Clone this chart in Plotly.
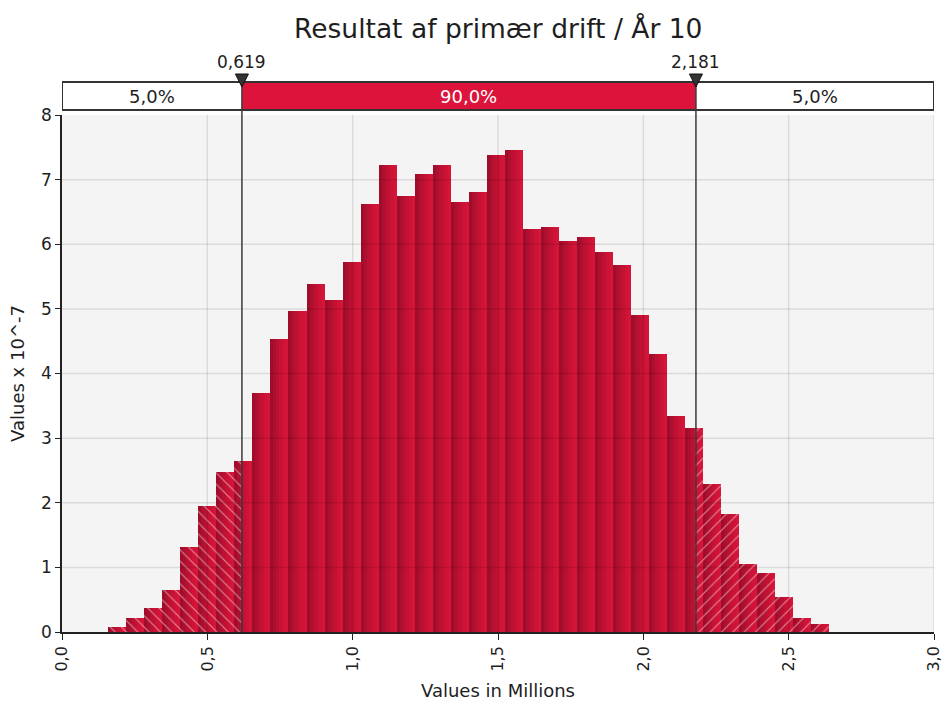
import plotly.graph_objects as go

# ---- data ----
title_text = "Resultat af primær drift / År 10"
x_title = "Values in Millions"
y_title = "Values x 10^-7"
bin_start = 0.1596
bin_width = 0.06196
heights = [0.08, 0.22, 0.37, 0.65, 1.32, 1.95, 2.47, 2.64, 3.70, 4.53,
           4.96, 5.39, 5.13, 5.73, 6.63, 7.23, 6.74, 7.09, 7.23, 6.66,
           6.81, 7.38, 7.46, 6.23, 6.27, 6.05, 6.11, 5.88, 5.68, 4.91,
           4.30, 3.35, 3.15, 2.29, 1.83, 1.05, 0.91, 0.54, 0.22, 0.13]
p_low = 0.619
p_high = 2.181
p_low_label = "0,619"
p_high_label = "2,181"
pct_labels = ["5,0%", "90,0%", "5,0%"]
x_ticks = [0.0, 0.5, 1.0, 1.5, 2.0, 2.5, 3.0]
y_ticks = [0, 1, 2, 3, 4, 5, 6, 7, 8]
x_range = [0, 3]
y_range = [0, 8]

# ---- style ----
FONT = "DejaVu Sans"
TXT = "#1e1e1e"
strip_colors = ["#a00d2a", "#ad0f2e", "#ba1031", "#c51234", "#ce1337", "#d41439"]
N = len(strip_colors)

fig = go.Figure()

# build pieces: (strip index, style) -> lists
pieces = {}
for i, h in enumerate(heights):
    a = bin_start + i * bin_width
    for j in range(N):
        sa = a + j * bin_width / N
        sb = sa + bin_width / N
        cuts = [sa]
        for c in (p_low, p_high):
            if sa < c < sb:
                cuts.append(c)
        cuts.append(sb)
        for k in range(len(cuts) - 1):
            lo, hi = cuts[k], cuts[k + 1]
            mid = (lo + hi) / 2
            style = "left" if mid < p_low else ("right" if mid > p_high else "mid")
            d = pieces.setdefault((j, style), {"x": [], "y": [], "w": []})
            d["x"].append(mid)
            d["y"].append(h)
            d["w"].append(hi - lo)

for (j, style), d in pieces.items():
    if style == "mid":
        pattern = dict(shape="")
    else:
        pattern = dict(shape="\\" if style == "left" else "/", fgcolor="white",
                       bgcolor=strip_colors[j], size=8, solidity=0.14, fillmode="overlay")
    fig.add_trace(go.Bar(
        x=d["x"], y=d["y"], width=d["w"],
        marker=dict(color=strip_colors[j], line=dict(width=0), pattern=pattern),
        showlegend=False, hoverinfo="skip"))

shapes = []
# grid lines above bars
for yv in y_ticks[1:-1]:
    shapes.append(dict(type="line", xref="paper", yref="y", x0=0, x1=1, y0=yv, y1=yv,
                       line=dict(color="rgba(0,0,0,0.10)", width=1.5), layer="above"))
for xv in x_ticks[1:]:
    shapes.append(dict(type="line", xref="x", yref="paper", x0=xv, x1=xv, y0=0, y1=1,
                       line=dict(color="rgba(0,0,0,0.10)", width=1.5), layer="above"))

# top percentile bar
bar_y0, bar_y1 = 1.0097, 1.0638
shapes.append(dict(type="rect", xref="x", yref="paper", x0=x_range[0], x1=x_range[1],
                   y0=bar_y0, y1=bar_y1, fillcolor="white", line=dict(width=0), layer="above"))
shapes.append(dict(type="rect", xref="x", yref="paper", x0=p_low, x1=p_high,
                   y0=bar_y0, y1=bar_y1, fillcolor="#dc143c", line=dict(width=0), layer="above"))
shapes.append(dict(type="rect", xref="x", yref="paper", x0=x_range[0], x1=x_range[1],
                   y0=bar_y0, y1=bar_y1, fillcolor="rgba(0,0,0,0)",
                   line=dict(color="#333333", width=2), layer="above"))
# percentile lines
for pv in (p_low, p_high):
    shapes.append(dict(type="line", xref="x", yref="paper", x0=pv, x1=pv, y0=0, y1=bar_y1,
                       line=dict(color="#3a3a3a", width=1.5), layer="above"))
    shapes.append(dict(type="path", xref="x", yref="paper", xsizemode="pixel", ysizemode="pixel",
                       xanchor=pv, yanchor=bar_y1, path="M -6.5 8 L 6.5 8 L 0 -5 Z",
                       fillcolor="#333333", line=dict(color="#111111", width=1), layer="above"))

annotations = [
    dict(text=title_text, xref="paper", yref="paper", x=0.5, y=1.168, showarrow=False,
         xanchor="center", yanchor="middle", font=dict(family=FONT, size=26.5, color=TXT)),
    dict(text=p_low_label, xref="x", yref="paper", x=p_low, y=1.1025, showarrow=False,
         xanchor="center", yanchor="middle", font=dict(family=FONT, size=17, color=TXT)),
    dict(text=p_high_label, xref="x", yref="paper", x=p_high, y=1.1025, showarrow=False,
         xanchor="center", yanchor="middle", font=dict(family=FONT, size=17, color=TXT)),
]
seg_bounds = [(x_range[0], p_low), (p_low, p_high), (p_high, x_range[1])]
for (s0, s1), lab, col in zip(seg_bounds, pct_labels, [TXT, "white", TXT]):
    annotations.append(dict(text=lab, xref="x", yref="paper", x=(s0 + s1) / 2,
                            y=(bar_y0 + bar_y1) / 2, showarrow=False, xanchor="center",
                            yanchor="middle", font=dict(family=FONT, size=18, color=col)))

fig.update_layout(
    width=943, height=706,
    margin=dict(l=62, r=9, t=115, b=74),
    paper_bgcolor="white", plot_bgcolor="#f4f4f4",
    barmode="overlay", bargap=0,
    separators=",.",
    font=dict(family=FONT, size=17, color=TXT),
    shapes=shapes, annotations=annotations,
    xaxis=dict(range=x_range, tickvals=x_ticks, tickformat=".1f", tickangle=-90,
               showgrid=False, zeroline=False, showline=True, linecolor="#222222",
               linewidth=1.5, ticks="outside", ticklen=6, tickcolor="#222222",
               ticklabeloverflow="allow", automargin=False,
               tickfont=dict(family=FONT, size=16, color=TXT),
               title=dict(text=x_title, font=dict(family=FONT, size=18, color=TXT), standoff=14)),
    yaxis=dict(range=y_range, tickvals=y_ticks, showgrid=False, zeroline=False,
               showline=True, linecolor="#222222", linewidth=1.5, ticks="outside",
               ticklen=5, tickcolor="#222222", automargin=False,
               tickfont=dict(family=FONT, size=17, color=TXT),
               title=dict(text=y_title, font=dict(family=FONT, size=18, color=TXT), standoff=12)),
)

fig.write_html("out.html")
